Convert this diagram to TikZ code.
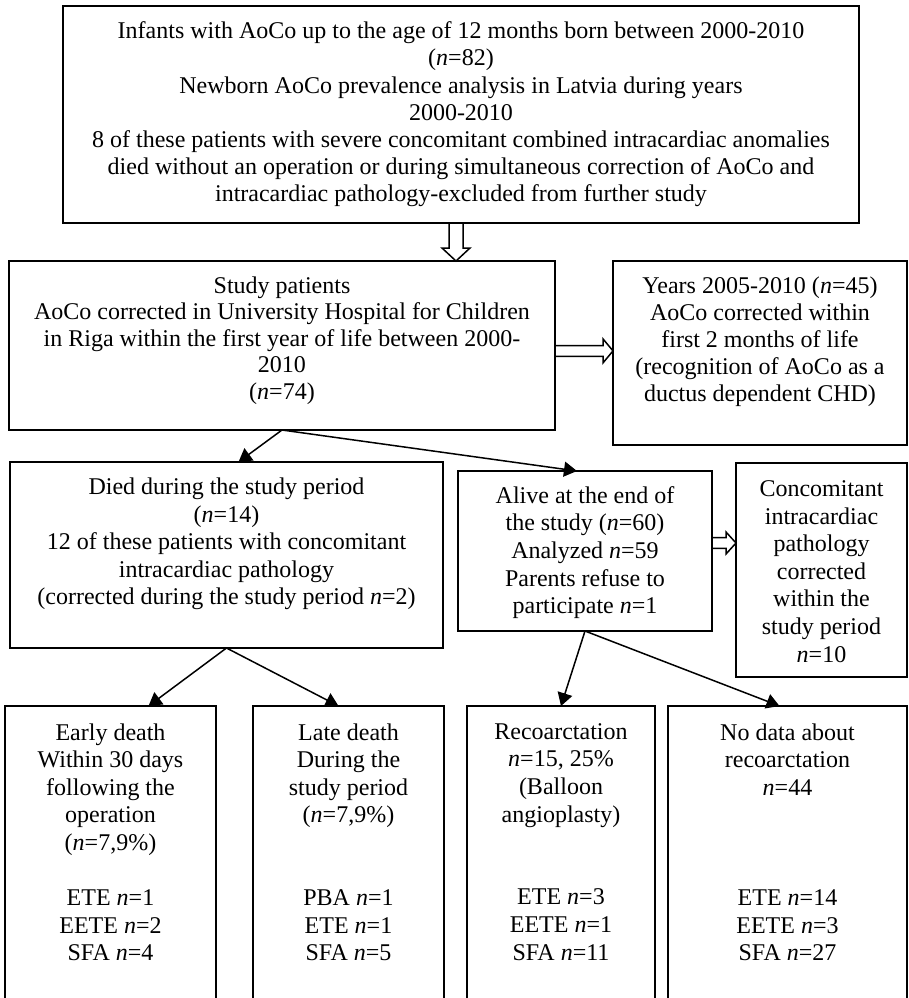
\documentclass[tikz,border=0pt]{standalone}
\usepackage{fontspec}
\setmainfont{Liberation Serif}
\usetikzlibrary{positioning,arrows.meta}
\newcommand{\nv}{\textit{n}}
\tikzset{
  boxframe/.style={draw, line width=1pt, outer sep=0pt, inner sep=0pt},
  boxtext/.style={align=center, inner sep=0pt},
  flowarrow/.style={-{Triangle[length=6.5pt, width=7.5pt]}, line width=0.75pt},
  hollow/.style={draw, fill=white, line width=0.75pt, line join=miter}
}
\begin{document}
\begin{tikzpicture}[font=\fontsize{12pt}{13.8pt}\selectfont]
  \useasboundingbox (0,0) rectangle (454.5pt,-499pt);
  % frames
  \node[boxframe, minimum width=398pt, minimum height=108.5pt, anchor=north west] (infants) at (31.5pt,-3pt) {};
  \node[boxframe, minimum width=273pt, minimum height=84.5pt, below=19pt of infants.south west, anchor=north west, xshift=-27pt] (study) {};
  \node[boxframe, minimum width=147pt, minimum height=92pt, right=29pt of study.north east, anchor=north west] (years) {};
  \node[boxframe, minimum width=216.5pt, minimum height=93pt, below=16pt of study.south west, anchor=north west, xshift=0.5pt] (died) {};
  \node[boxframe, minimum width=127pt, minimum height=80pt, right=7.5pt of died.north east, anchor=north west, yshift=-4.5pt] (alive) {};
  \node[boxframe, minimum width=85.5pt, minimum height=107pt, right=12pt of alive.north east, anchor=north west, yshift=4pt] (concom) {};
  \node[boxframe, minimum width=105.5pt, minimum height=150pt, below=29pt of died.south west, anchor=north west, xshift=-2.5pt] (early) {};
  \node[boxframe, minimum width=95.5pt, minimum height=150pt, right=18.5pt of early.north east, anchor=north west] (late) {};
  \node[boxframe, minimum width=94pt, minimum height=150pt, right=11.5pt of late.north east, anchor=north west] (recoarc) {};
  \node[boxframe, minimum width=119.5pt, minimum height=150pt, right=6.5pt of recoarc.north east, anchor=north west] (nodata) {};
  % texts
  \node[boxtext, font=\fontsize{12pt}{13.6pt}\selectfont] (infantsText) at (infants.center) {Infants with AoCo up to the age of 12 months born between 2000-2010\\(\nv=82)\\Newborn AoCo prevalence analysis in Latvia during years\\2000-2010\\8 of these patients with severe concomitant combined intracardiac anomalies\\died without an operation or during simultaneous correction of AoCo and\\intracardiac pathology-excluded from further study};
  \node[boxtext, yshift=2.5pt, font=\fontsize{12pt}{13.3pt}\selectfont] (studyText) at (study.center) {Study patients\\AoCo corrected in University Hospital for Children\\in Riga within the first year of life between 2000-\\2010\\(\nv=74)};
  \node[boxtext, yshift=5.5pt, font=\fontsize{12pt}{13.5pt}\selectfont] (yearsText) at (years.center) {Years 2005-2010 (\nv=45)\\AoCo corrected within\\first 2 months of life\\(recognition of AoCo as a\\ductus dependent CHD)};
  \node[boxtext, yshift=5.5pt] (diedText) at (died.center) {Died during the study period\\(\nv=14)\\12 of these patients with concomitant\\intracardiac pathology\\(corrected during the study period \nv=2)};
  \node[boxtext, yshift=-0.75pt] (aliveText) at (alive.center) {Alive at the end of\\the study (\nv=60)\\Analyzed \nv=59\\Parents refuse to\\participate \nv=1};
  \node[boxtext, yshift=-0.75pt] (concomText) at (concom.center) {Concomitant\\intracardiac\\pathology\\corrected\\within the\\study period\\\nv=10};
  \node[boxtext, below=8.5pt of early.north, anchor=north] (earlyText) {Early death\\Within 30 days\\following the\\operation\\(\nv=7,9\%)\\[13.8pt]ETE \nv=1\\EETE \nv=2\\SFA \nv=4};
  \node[boxtext, below=8.5pt of late.north, anchor=north] (lateText) {Late death\\During the\\study period\\(\nv=7,9\%)\\[27.6pt]PBA \nv=1\\ETE \nv=1\\SFA \nv=5};
  \node[boxtext, below=8.5pt of recoarc.north, anchor=north] (recoarcText) {Recoarctation\\\nv=15, 25\%\\(Balloon\\angioplasty)\\[27.6pt]ETE \nv=3\\EETE \nv=1\\SFA \nv=11};
  \node[boxtext, below=8.5pt of nodata.north, anchor=north] (nodataText) {No data about\\recoarctation\\\nv=44\\[41.4pt]ETE \nv=14\\EETE \nv=3\\SFA \nv=27};
  % hollow arrows
  \draw[hollow] ([xshift=-6pt]infants.south) -- ++(0,-12.5pt) -- ++(-3.5pt,0) -- ++(7pt,-6.5pt) -- ++(7pt,6.5pt) -- ++(-3.5pt,0) -- ++(0,12.5pt) -- cycle;
  \draw[hollow] (study.east) -- ++(24pt,0) -- ++(0,3.3pt) -- ++(5pt,-6pt) -- ++(-5pt,-6pt) -- ++(0,3.3pt) -- ++(-24pt,0) -- cycle;
  \draw[hollow] ([yshift=6.7pt]alive.east) -- ++(7pt,0) -- ++(0,2.8pt) -- ++(5pt,-5.5pt) -- ++(-5pt,-5.5pt) -- ++(0,2.8pt) -- ++(-7pt,0) -- cycle;
  % solid arrows
  \draw[flowarrow] (study.south) -- ([xshift=6pt]died.north);
  \draw[flowarrow] (study.south) -- ([xshift=-4pt]alive.north);
  \draw[flowarrow] (died.south) -- ([xshift=19pt]early.north);
  \draw[flowarrow] (died.south) -- ([xshift=-5pt]late.north);
  \draw[flowarrow] (alive.south) -- (recoarc.north);
  \draw[flowarrow] (alive.south) -- ([xshift=-4pt]nodata.north);
\end{tikzpicture}
\end{document}
